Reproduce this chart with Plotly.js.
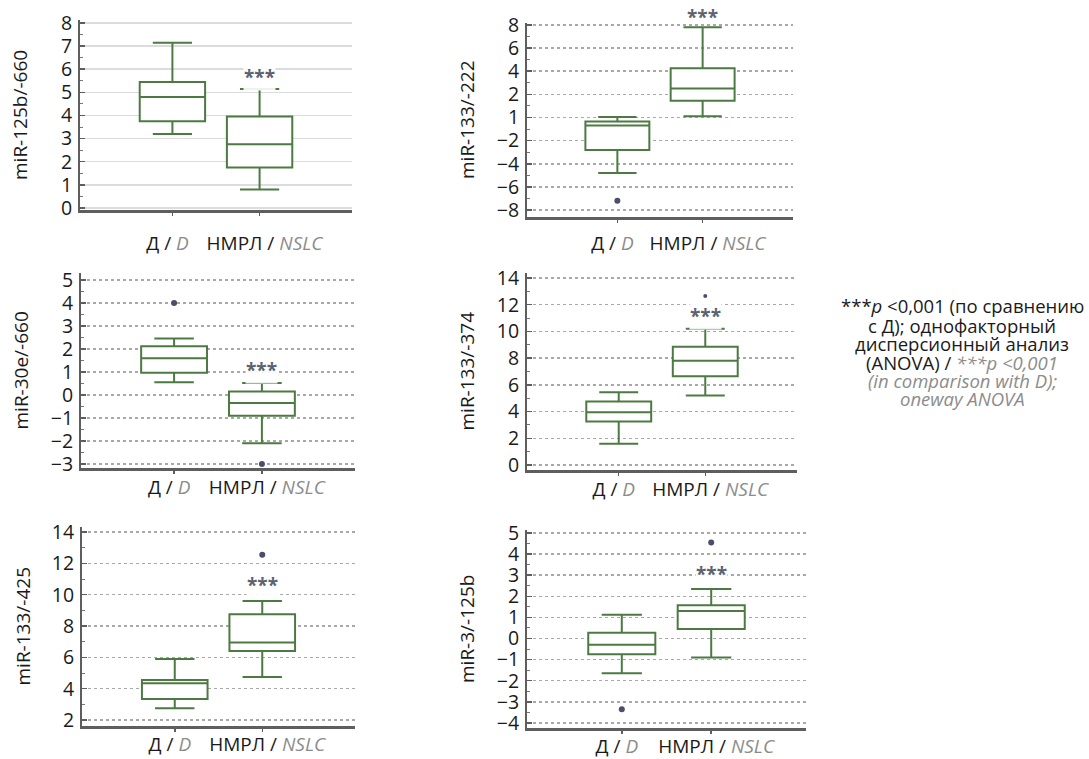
<!DOCTYPE html>
<html>
<head>
<meta charset="utf-8">
<script src="https://cdn.plot.ly/plotly-3.0.1.min.js"></script>
<style>html,body{margin:0;padding:0;background:#fff;}#chart{width:1089px;height:759px;}</style>
</head>
<body>
<div id="chart"></div>
<script>
// ---------- data ----------
const categories = ['D', 'NSLC'];
const tickLabels = ['Д / <span style="color:#8c8c8c"><i>D</i></span>\u00A0\u00A0',
                    '\u00A0\u00A0НМРЛ / <span style="color:#8c8c8c"><i>NSLC</i></span>'];
const panelTitles = ['miR-125b/-660', 'miR-133/-222', 'miR-30e/-660',
                     'miR-133/-374', 'miR-133/-425', 'miR-3/-125b'];

const lowerP1 = [3.2, 0.8],   q1P1 = [3.75, 1.75], medP1 = [4.8, 2.75],  q3P1 = [5.45, 3.95], upperP1 = [7.15, 5.15];
const lowerP2 = [-4.8, 0.1],  q1P2 = [-2.8, 1.45], medP2 = [-0.7, 2.5],  q3P2 = [-0.35, 4.25], upperP2 = [0.05, 7.8];
const lowerP3 = [0.55, -2.1], q1P3 = [0.97, -0.9], medP3 = [1.6, -0.35], q3P3 = [2.12, 0.15], upperP3 = [2.45, 0.52];
const lowerP4 = [1.6, 5.2],   q1P4 = [3.25, 6.65], medP4 = [3.95, 7.8],  q3P4 = [4.75, 8.85], upperP4 = [5.45, 10.2];
const lowerP5 = [2.75, 4.75], q1P5 = [3.35, 6.4],  medP5 = [4.35, 6.95], q3P5 = [4.55, 8.75], upperP5 = [5.9, 9.6];
const lowerP6 = [-1.65, -0.9],q1P6 = [-0.75, 0.45],medP6 = [-0.3, 1.3],  q3P6 = [0.27, 1.58], upperP6 = [1.12, 2.35];

const outlierXP1 = [], outlierYP1 = [];
const outlierXP2 = ['D'], outlierYP2 = [-7.2];
const outlierXP3 = ['D', 'NSLC'], outlierYP3 = [4.0, -3.0];
const outlierXP4 = ['NSLC'], outlierYP4 = [12.65];
const outlierXP5 = ['NSLC'], outlierYP5 = [12.55];
const outlierXP6 = ['D', 'NSLC'], outlierYP6 = [-3.35, 4.55];
const outlierSize = [6, 6, 6, 4, 6, 6];

const starY = [5.9, 9.1, 1.32, 11.5, 10.95, 3.3];

const yTicksP2 = [-8, -6, -4, -2, 0, 2, 4, 6, 8];
const yTickTextP2 = ['−8', '−6', '−4', '−2', '1', '2', '4', '6', '8'];

const noteRu = ['***<i>p</i> <0,001 (по сравнению', 'с Д); однофакторный', 'дисперсионный анализ'];
const noteMixed = '(ANOVA) / <span style="color:#8c8c8c"><i>***p <0,001</i></span>';
const noteEn = ['(in comparison with D);', 'oneway ANOVA'];

// ---------- layout helpers ----------
const W = 1089, H = 759;
const FONT = 'Open Sans, Noto Sans, DejaVu Sans, sans-serif';
const GREEN = '#4d7a43', AXIS = '#5e5e5e', DOT = '#4a4d6b', STAR = '#5d6272';

const panels = [
  {lo: lowerP1, q1: q1P1, med: medP1, q3: q3P1, up: upperP1, ox: outlierXP1, oy: outlierYP1,
   px: [80, 352], py: [20, 210], yr: [-0.09, 8.13], dtick: 1, minor: 0.5, solidGrid: true, standoff: 12, starBg: true},
  {lo: lowerP2, q1: q1P2, med: medP2, q3: q3P2, up: upperP2, ox: outlierXP2, oy: outlierYP2,
   px: [527, 793], py: [23, 217], yr: [-8.6, 8.17], tickvals: yTicksP2, ticktext: yTickTextP2, minor: 1, standoff: 5, starBg: false},
  {lo: lowerP3, q1: q1P3, med: medP3, q3: q3P3, up: upperP3, ox: outlierXP3, oy: outlierYP3,
   px: [81, 355], py: [273, 468], yr: [-3.17, 5.3], dtick: 1, minor: 0.5, standoff: -2, starBg: true},
  {lo: lowerP4, q1: q1P4, med: medP4, q3: q3P4, up: upperP4, ox: outlierXP4, oy: outlierYP4,
   px: [527, 797], py: [273, 470], yr: [-0.37, 14.37], dtick: 2, minor: 1, standoff: -2, starBg: true},
  {lo: lowerP5, q1: q1P5, med: medP5, q3: q3P5, up: upperP5, ox: outlierXP5, oy: outlierYP5,
   px: [82, 355], py: [527, 726], yr: [1.62, 14.32], dtick: 2, minor: 1, standoff: -3, starBg: true},
  {lo: lowerP6, q1: q1P6, med: medP6, q3: q3P6, up: upperP6, ox: outlierXP6, oy: outlierYP6,
   px: [527, 806], py: [530, 728], yr: [-4.24, 5.14], dtick: 1, minor: 0.5, standoff: -3, starBg: true}
];

const data = [];
const layout = {
  width: W, height: H,
  margin: {l: 0, r: 0, t: 0, b: 0},
  paper_bgcolor: '#fff', plot_bgcolor: 'rgba(0,0,0,0)',
  showlegend: false,
  font: {family: FONT, color: '#222', size: 17},
  annotations: []
};

panels.forEach((p, i) => {
  const n = i === 0 ? '' : String(i + 1);
  const xa = 'x' + n, ya = 'y' + n;
  data.push({
    type: 'box', x: categories, q1: p.q1, median: p.med, q3: p.q3,
    lowerfence: p.lo, upperfence: p.up, xaxis: xa, yaxis: ya,
    fillcolor: '#ffffff', line: {color: GREEN, width: 2},
    whiskerwidth: 0.6, width: 0.75, boxpoints: false, hoverinfo: 'skip'
  });
  data.push({
    type: 'scatter', mode: 'markers', x: p.ox, y: p.oy, xaxis: xa, yaxis: ya,
    marker: {color: DOT, size: outlierSize[i]}, cliponaxis: false, hoverinfo: 'skip'
  });

  const yDom = [1 - p.py[1] / H, 1 - p.py[0] / H];
  layout['xaxis' + n] = {
    domain: [p.px[0] / W, p.px[1] / W], anchor: ya,
    type: 'category', range: [-1.06, 2.06],
    tickvals: categories, ticktext: tickLabels, tickangle: 0,
    showline: true, linecolor: AXIS, linewidth: 2.5,
    ticks: 'outside', ticklen: 3, tickcolor: AXIS, tickwidth: 1.5,
    showgrid: false, zeroline: false, fixedrange: true,
    tickfont: {size: 19, color: '#1a1a1a', family: FONT},
    ticklabelstandoff: p.standoff
  };
  const yax = {
    domain: yDom, anchor: xa,
    range: p.yr, showline: true, linecolor: AXIS, linewidth: 2,
    ticks: 'inside', ticklen: 5, tickcolor: AXIS, tickwidth: 1.5,
    minor: {ticks: 'inside', ticklen: 3, tickcolor: '#777', tickwidth: 1, dtick: p.minor, showgrid: false},
    zeroline: false, fixedrange: true,
    tickfont: {size: 19.5, color: '#1a1a1a', family: FONT},
    ticklabelstandoff: 2,
    showgrid: true,
    gridcolor: p.solidGrid ? '#dcdcdc' : '#a8a8a8',
    gridwidth: 1.5,
    griddash: p.solidGrid ? 'solid' : 'dot'
  };
  if (p.tickvals) { yax.tickmode = 'array'; yax.tickvals = p.tickvals; yax.ticktext = p.ticktext; }
  else { yax.dtick = p.dtick; yax.tick0 = 0; }
  layout['yaxis' + n] = yax;

  // y-axis title
  layout.annotations.push({
    xref: 'paper', yref: 'paper',
    x: (p.px[0] - 60) / W, y: (yDom[0] + yDom[1]) / 2,
    text: panelTitles[i], textangle: -90, showarrow: false,
    xanchor: 'center', yanchor: 'middle',
    font: {size: 19, color: '#1a1a1a', family: FONT}
  });
  // significance stars: y value mapped through the panel's y scale (may lie above the plot area)
  const frac = (starY[i] - p.yr[0]) / (p.yr[1] - p.yr[0]);
  layout.annotations.push({
    xref: xa, yref: 'paper', x: 'NSLC', y: yDom[0] + frac * (yDom[1] - yDom[0]),
    text: '<b>***</b>',
    showarrow: false, xanchor: 'center', yanchor: 'middle', yshift: -5,
    bgcolor: p.starBg ? 'rgba(255,255,255,0.9)' : 'rgba(0,0,0,0)', borderpad: 0,
    font: {size: 19, color: STAR, family: FONT}
  });
});

// right-hand note
const noteLines = noteRu.concat([noteMixed]).concat(noteEn);
const noteY = [305, 325, 343, 362, 380, 398];
noteLines.forEach((t, k) => {
  const en = k >= 4;
  layout.annotations.push({
    xref: 'paper', yref: 'paper', x: 962 / W, y: 1 - noteY[k] / H,
    text: en ? '<i>' + t + '</i>' : t, showarrow: false,
    xanchor: 'center', yanchor: 'middle',
    font: {size: 18.5, color: en ? '#8c8c8c' : '#1a1a1a', family: FONT}
  });
});

Plotly.newPlot('chart', data, layout, {displayModeBar: false, staticPlot: true});
</script>
</body>
</html>
